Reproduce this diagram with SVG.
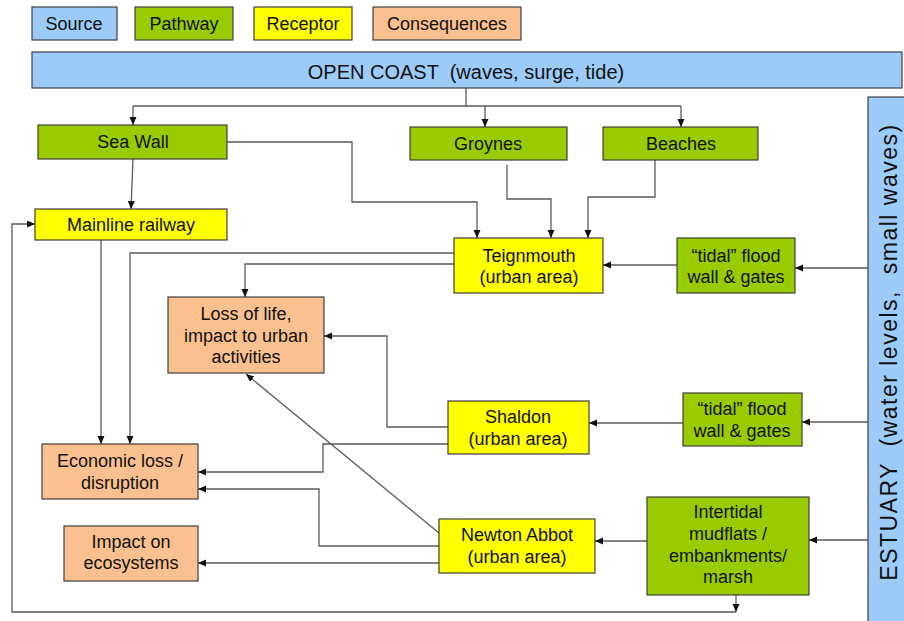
<svg xmlns="http://www.w3.org/2000/svg" width="904" height="621" viewBox="0 0 904 621">
  <defs>
    <marker id="arrow" markerUnits="userSpaceOnUse" markerWidth="9" markerHeight="8" refX="8" refY="3.5" orient="auto">
      <path d="M0,0 L8,3.5 L0,7 z" fill="#111"/>
    </marker>
    <style>
      .box { stroke: #3f3f3f; stroke-width: 1.2; }
      .src { fill: #9dcbf7; }
      .path { fill: #99cc00; }
      .rec { fill: #ffff00; }
      .con { fill: #fac08f; }
      text { font-family: "Liberation Sans", Arial, sans-serif; font-size: 18px; fill: #111; text-anchor: middle; }
      .big { font-size: 20px; white-space: pre; }
      .est { font-size: 23px; white-space: pre; letter-spacing: 1.5px; }
      #connectors path { fill: none; stroke: #5a5a5a; stroke-width: 1.3; }
      .arr { marker-end: url(#arrow); }
    </style>
  </defs>
  <rect width="904" height="621" fill="#ffffff"/>

  <!-- legend -->
  <g id="legend">
    <rect class="box src" x="32" y="7" width="85" height="33"/>
    <text x="74" y="30">Source</text>
    <rect class="box path" x="135" y="7" width="98" height="33"/>
    <text x="184" y="30">Pathway</text>
    <rect class="box rec" x="254" y="7" width="98" height="33"/>
    <text x="303" y="30">Receptor</text>
    <rect class="box con" x="373" y="7" width="148" height="33"/>
    <text x="447" y="30">Consequences</text>
  </g>

  <!-- connectors -->
  <g id="connectors">
    <!-- open coast branches -->
    <path d="M466,88 V106"/>
    <path d="M133,106 H681"/>
    <path class="arr" d="M133,106 V125"/>
    <path class="arr" d="M485,106 V127"/>
    <path class="arr" d="M681,106 V127"/>
    <!-- sea wall -->
    <path class="arr" d="M133,159 L131,209"/>
    <path class="arr" d="M227,142 H352 V202 H477 V238"/>
    <!-- groynes, beaches -->
    <path class="arr" d="M507,165 V199 H551 V238"/>
    <path class="arr" d="M655,158 V197 H588 V238"/>
    <!-- estuary side -->
    <path class="arr" d="M677,265 H603"/>
    <path class="arr" d="M868,268 H795"/>
    <path class="arr" d="M683,423 H589"/>
    <path class="arr" d="M868,422 H802"/>
    <path class="arr" d="M647,541 H595"/>
    <path class="arr" d="M868,540 H809"/>
    <!-- teignmouth -->
    <path class="arr" d="M454,264 H245 V297"/>
    <path class="arr" d="M454,253 H130 V444"/>
    <!-- mainline railway -->
    <path class="arr" d="M101,240 V444"/>
    <!-- shaldon -->
    <path class="arr" d="M448,427 H387 V336 H324"/>
    <path class="arr" d="M448,444 H323 V472 H198"/>
    <!-- newton abbot -->
    <path class="arr" d="M439,546 H319 V489 H198"/>
    <path class="arr" d="M439,533 L246,374"/>
    <path class="arr" d="M439,563 H198"/>
    <!-- mudflats loop back to railway -->
    <path class="arr" d="M736,595 V612"/>
    <path class="arr" d="M736,612 H12 V224 H35"/>
  </g>

  <!-- sources -->
  <g id="open-coast">
    <rect class="box src" x="32" y="52" width="870" height="36"/>
    <text class="big" x="466" y="79">OPEN COAST  (waves, surge, tide)</text>
  </g>
  <g id="estuary">
    <rect class="box src" x="868" y="97" width="40" height="530"/>
    <text class="est" transform="translate(897,352) rotate(-90)" x="0" y="0">ESTUARY  (water levels,  small waves)</text>
  </g>

  <!-- pathways -->
  <g id="sea-wall">
    <rect class="box path" x="38" y="125" width="189" height="34"/>
    <text x="133" y="148">Sea Wall</text>
  </g>
  <g id="groynes">
    <rect class="box path" x="410" y="127" width="157" height="33"/>
    <text x="488" y="150">Groynes</text>
  </g>
  <g id="beaches">
    <rect class="box path" x="603" y="127" width="155" height="33"/>
    <text x="681" y="150">Beaches</text>
  </g>
  <g id="flood-wall-1">
    <rect class="box path" x="677" y="238" width="118" height="55"/>
    <text x="736" y="262">“tidal” flood</text>
    <text x="736" y="283">wall &amp; gates</text>
  </g>
  <g id="flood-wall-2">
    <rect class="box path" x="683" y="393" width="119" height="53"/>
    <text x="742" y="415">“tidal” flood</text>
    <text x="742" y="437">wall &amp; gates</text>
  </g>
  <g id="intertidal">
    <rect class="box path" x="647" y="497" width="162" height="98"/>
    <text x="728" y="518">Intertidal</text>
    <text x="728" y="540">mudflats /</text>
    <text x="728" y="562">embankments/</text>
    <text x="728" y="583">marsh</text>
  </g>

  <!-- receptors -->
  <g id="mainline-railway">
    <rect class="box rec" x="35" y="209" width="192" height="31"/>
    <text x="131" y="231">Mainline railway</text>
  </g>
  <g id="teignmouth">
    <rect class="box rec" x="454" y="238" width="149" height="55"/>
    <text x="529" y="262">Teignmouth</text>
    <text x="529" y="283">(urban area)</text>
  </g>
  <g id="shaldon">
    <rect class="box rec" x="448" y="401" width="141" height="53"/>
    <text x="518" y="423">Shaldon</text>
    <text x="518" y="445">(urban area)</text>
  </g>
  <g id="newton-abbot">
    <rect class="box rec" x="439" y="519" width="156" height="54"/>
    <text x="517" y="541">Newton Abbot</text>
    <text x="517" y="563">(urban area)</text>
  </g>

  <!-- consequences -->
  <g id="loss-of-life">
    <rect class="box con" x="168" y="297" width="156" height="76"/>
    <text x="246" y="320">Loss of life,</text>
    <text x="246" y="342">impact to urban</text>
    <text x="246" y="363">activities</text>
  </g>
  <g id="economic-loss">
    <rect class="box con" x="42" y="444" width="156" height="55"/>
    <text x="120" y="467">Economic loss /</text>
    <text x="120" y="489">disruption</text>
  </g>
  <g id="ecosystems">
    <rect class="box con" x="64" y="526" width="134" height="55"/>
    <text x="131" y="548">Impact on</text>
    <text x="131" y="569">ecosystems</text>
  </g>
</svg>
